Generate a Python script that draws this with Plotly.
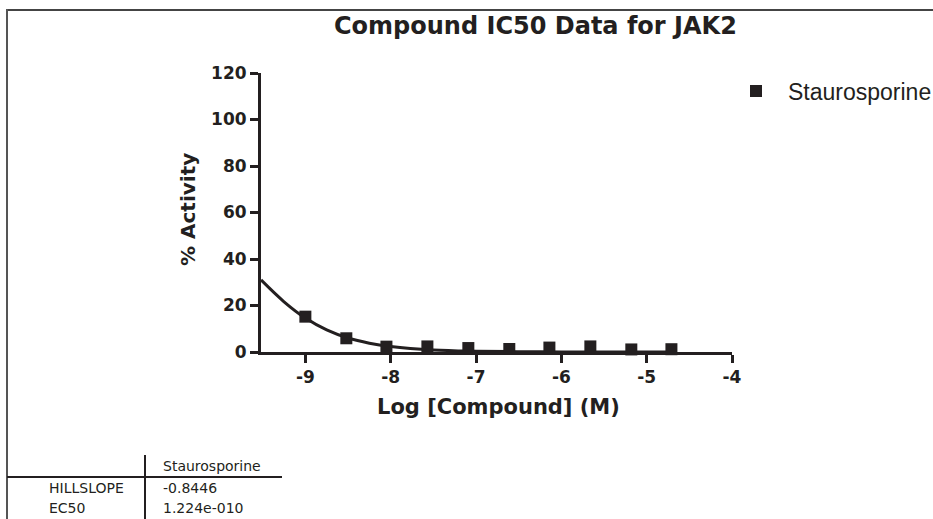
import plotly.graph_objects as go

# ---- data ----
log_conc = [-9.0, -8.52, -8.05, -7.57, -7.09, -6.61, -6.14, -5.66, -5.18, -4.71]
activity = [15.2, 5.9, 2.3, 2.4, 1.7, 1.3, 1.9, 2.4, 1.1, 1.2]

fit_x = [-9.52, -9.25, -9.0, -8.75, -8.5, -8.25, -8.0, -7.5, -7.0, -6.5, -6.0, -5.5, -5.0, -4.71]
fit_y = [31.0, 21.6, 14.6, 9.5, 6.0, 3.8, 2.4, 0.9, 0.35, 0.13, 0.05, 0.02, 0.01, 0.0]

x_ticks = [-9, -8, -7, -6, -5, -4]
x_tick_labels = ["-9", "-8", "-7", "-6", "-5", "-4"]
y_ticks = [0, 20, 40, 60, 80, 100, 120]

series_name = "Staurosporine"
table_rows = ["HILLSLOPE", "EC50"]
table_vals = ["-0.8446", "1.224e-010"]

W, H = 933, 519
L, R, T, B = 261, 732, 73, 352
INK = "#231f20"
BOLD = "DejaVu Sans, Arial, sans-serif"
REG = "DejaVu Sans, Arial, sans-serif"
ARIAL = "Liberation Sans, Arial, sans-serif"


def px(x):
    return (x - L) / (R - L)


def py(y):
    return (B - y) / (B - T)


fig = go.Figure()
fig.add_trace(go.Scatter(
    x=fit_x, y=fit_y, mode="lines", line=dict(color=INK, width=3, shape="spline"),
    showlegend=False, hoverinfo="skip", cliponaxis=False))
fig.add_trace(go.Scatter(
    x=log_conc, y=activity, mode="markers", name=series_name,
    marker=dict(symbol="square", size=12, color=INK), cliponaxis=False,
    showlegend=False))

tickfont = dict(family=BOLD, size=17, color=INK, weight="bold")
fig.update_xaxes(range=[-9.52, -4], tickvals=x_ticks, ticktext=x_tick_labels,
                 ticks="outside", ticklen=8, tickwidth=3, tickcolor=INK,
                 showline=True, linewidth=3, linecolor=INK,
                 showgrid=False, zeroline=False, tickfont=tickfont)
fig.update_yaxes(range=[0, 120], tickvals=y_ticks, ticks="outside", ticklen=8,
                 tickwidth=3, tickcolor=INK, showline=True, linewidth=3, linecolor=INK,
                 showgrid=False, zeroline=False, tickfont=tickfont)

ann = []
ann.append(dict(text="<b>Compound IC50 Data for JAK2</b>", x=px(535), y=py(26),
                xref="paper", yref="paper", showarrow=False,
                font=dict(family=BOLD, size=24, color=INK), xanchor="center", yanchor="middle"))
ann.append(dict(text="<b>% Activity</b>", x=px(188), y=py(210), textangle=-90,
                xref="paper", yref="paper", showarrow=False,
                font=dict(family=BOLD, size=20, color=INK), xanchor="center", yanchor="middle"))
ann.append(dict(text="<b>Log [Compound] (M)</b>", x=px(498), y=py(407),
                xref="paper", yref="paper", showarrow=False,
                font=dict(family=BOLD, size=21, color=INK), xanchor="center", yanchor="middle"))
# legend
ann.append(dict(text=series_name, x=px(786), y=py(92), xref="paper", yref="paper",
                showarrow=False, font=dict(family=ARIAL, size=23, color=INK),
                xanchor="left", yanchor="middle"))
# table
ann.append(dict(text=series_name, x=px(161), y=py(466), xref="paper", yref="paper",
                showarrow=False, font=dict(family=REG, size=14, color=INK),
                xanchor="left", yanchor="middle"))
for i, (lab, val) in enumerate(zip(table_rows, table_vals)):
    yy = 488 + i * 20
    ann.append(dict(text=lab, x=px(47), y=py(yy), xref="paper", yref="paper",
                    showarrow=False, font=dict(family=REG, size=14, color=INK),
                    xanchor="left", yanchor="middle"))
    ann.append(dict(text=val, x=px(161), y=py(yy), xref="paper", yref="paper",
                    showarrow=False, font=dict(family=REG, size=14, color=INK),
                    xanchor="left", yanchor="middle"))

shapes = [
    # legend marker
    dict(type="rect", xref="paper", yref="paper", x0=px(750), x1=px(762), y0=py(85), y1=py(97),
         fillcolor=INK, line=dict(width=0)),
    # outer border (top and left)
    dict(type="line", xref="paper", yref="paper", x0=px(6), x1=px(933), y0=py(10), y1=py(10),
         line=dict(color="#444444", width=2)),
    dict(type="line", xref="paper", yref="paper", x0=px(7), x1=px(7), y0=py(9), y1=py(519),
         line=dict(color="#555555", width=2)),
    # table lines
    dict(type="line", xref="paper", yref="paper", x0=px(7), x1=px(282), y0=py(477), y1=py(477),
         line=dict(color=INK, width=2)),
    dict(type="line", xref="paper", yref="paper", x0=px(145), x1=px(145), y0=py(455), y1=py(519),
         line=dict(color=INK, width=2)),
]

fig.update_layout(width=W, height=H, margin=dict(l=L, r=W - R, t=T, b=H - B),
                  plot_bgcolor="white", paper_bgcolor="white", showlegend=False,
                  annotations=ann, shapes=shapes, font=dict(family=ARIAL, color=INK))

fig.write_html("out.html", config={"displayModeBar": False},
               post_script="document.body.style.margin='0';document.body.style.overflow='hidden';")
